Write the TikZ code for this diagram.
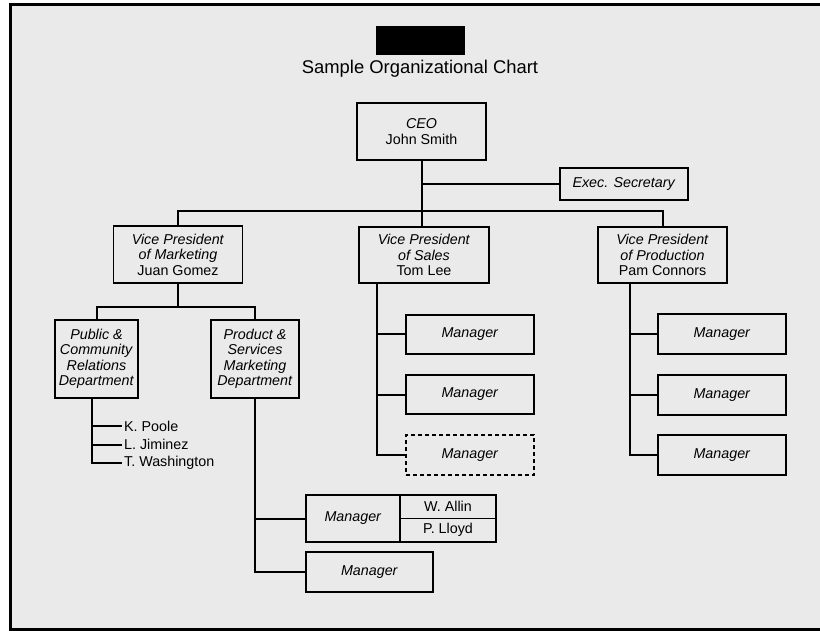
\documentclass[tikz,border=0pt]{standalone}
\usepackage{fontspec}
\setmainfont{Liberation Sans}
\definecolor{bg}{HTML}{EAEAEA}
\tikzset{
  box/.style={draw=black, line width=1.8pt, rectangle, inner sep=0pt, align=center,
    fill=bg, font=\fontsize{14.3}{15.5}\selectfont},
  sz/.style 2 args={minimum width=#1pt, minimum height=#2pt},
  conn/.style={line width=2pt, draw=black},
  person/.style={anchor=west, inner sep=0pt, font=\fontsize{14.3}{15.5}\selectfont},
  dashbox/.style={box, dash pattern=on 4pt off 3pt}
}
\begin{document}
\begin{tikzpicture}[x=1pt,y=-1pt]
\useasboundingbox (0,0) rectangle (820,631);
\fill[white] (0,0) rectangle (820,631);
\fill[bg] (10,5) rectangle (820,630);
\draw[line width=3pt] (10.5,631) -- (10.5,5) -- (820,5);
\draw[line width=2.5pt] (9,629.5) -- (820,629.5);

% header
\node[fill=black, inner sep=0pt, sz={89}{29}] (redact) at (420.5,40.5) {};
\node[inner sep=0pt, font=\fontsize{18.4}{20}\selectfont] (title) at (420,69) {Sample Organizational Chart};

% top levels
\node[box, sz={129}{57}] (ceo) at (421.5,131.5) {\textit{CEO}\\John Smith};
\node[box, sz={128}{32}] (sec) at (624,184) {\textit{Exec. Secretary}};
\node[box, sz={129}{57}] (vpm) at (178,254.5) {\textit{Vice President}\\\textit{of Marketing}\\Juan Gomez};
\node[box, sz={130}{56}] (vps) at (424,255) {\textit{Vice President}\\\textit{of Sales}\\Tom Lee};
\node[box, sz={129}{56}] (vpp) at (662.5,255) {\textit{Vice President}\\\textit{of Production}\\Pam Connors};

\coordinate (bar) at (421.5,211);
\draw[conn] (ceo.south) -- (ceo.south |- vps.north);
\draw[conn] (vpm.north) |- (vpp.north |- bar) -- (vpp.north);
\draw[conn] (ceo.south |- sec.west) -- (sec.west);

% marketing
\node[box, sz={83}{78}] (pub) at (96.5,359) {\textit{Public \&}\\\textit{Community}\\\textit{Relations}\\\textit{Department}};
\node[box, sz={88}{78}] (prd) at (255,359) {\textit{Product \&}\\\textit{Services}\\\textit{Marketing}\\\textit{Department}};
\coordinate (mbar) at (178,307);
\draw[conn] (vpm.south) -- (mbar);
\draw[conn] (pub.north) |- (prd.north |- mbar) -- (prd.north);

\node[person] (kp) at (124,426) {K. Poole};
\node[person] (lj) at (124,444.5) {L. Jiminez};
\node[person] (tw) at (124,463) {T. Washington};
\coordinate (ptr) at ([xshift=-4.5pt]pub.south);
\draw[conn] (ptr) |- ([xshift=-2pt]tw.west);
\draw[conn] (ptr |- kp.west) -- ([xshift=-2pt]kp.west);
\draw[conn] (ptr |- lj.west) -- ([xshift=-2pt]lj.west);

\node[box, sz={94}{47}] (ma) at (353,518.5) {\textit{Manager}};
\node[box, sz={96}{23.5}] (wa) at (448,506.75) {W. Allin};
\node[box, sz={96}{23.5}] (pl) at (448,530.25) {P. Lloyd};
\node[box, sz={127}{40}] (mb) at (369.5,572) {\textit{Manager}};
\draw[conn] (prd.south) |- (mb.west);
\draw[conn] (prd.south |- ma.west) -- (ma.west);

% sales
\node[box, sz={128}{39}] (s1) at (470,334.5) {\textit{Manager}};
\node[box, sz={128}{39}] (s2) at (470,394.5) {\textit{Manager}};
\node[dashbox, sz={128}{40}] (s3) at (470,455) {\textit{Manager}};
\coordinate (str) at ([xshift=-47pt]vps.south);
\draw[conn] (str) |- (s3.west);
\draw[conn] (str |- s1.west) -- (s1.west);
\draw[conn] (str |- s2.west) -- (s2.west);

% production
\node[box, sz={128}{40}] (p1) at (722,334) {\textit{Manager}};
\node[box, sz={128}{40}] (p2) at (722,395) {\textit{Manager}};
\node[box, sz={128}{40}] (p3) at (722,455) {\textit{Manager}};
\coordinate (ptr2) at ([xshift=-32.5pt]vpp.south);
\draw[conn] (ptr2) |- (p3.west);
\draw[conn] (ptr2 |- p1.west) -- (p1.west);
\draw[conn] (ptr2 |- p2.west) -- (p2.west);
\end{tikzpicture}
\end{document}
